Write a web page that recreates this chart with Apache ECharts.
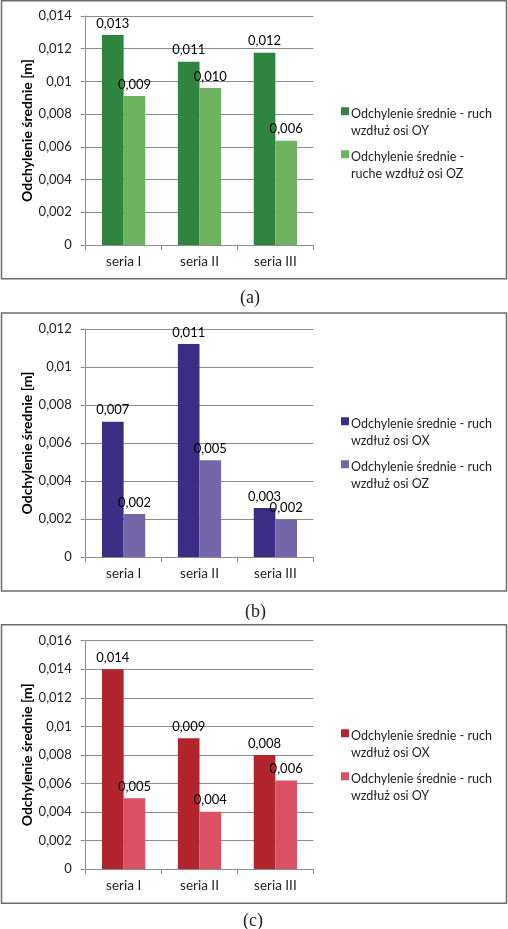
<!DOCTYPE html>
<html>
<head>
<meta charset="utf-8">
<script src="https://cdn.jsdelivr.net/npm/echarts@6/dist/echarts.min.js"></script>
<style>
  html, body { margin: 0; padding: 0; background: #fff; }
  .panel { position: absolute; left: 0; width: 508px; }
</style>
</head>
<body>
<div id="chartA" class="panel" style="top:0;height:310px"></div>
<div id="chartB" class="panel" style="top:310px;height:310px"></div>
<div id="chartC" class="panel" style="top:620px;height:309px"></div>
<script>
// dane
var categories = ["seria I", "seria II", "seria III"];

var namesA = ["Odchylenie średnie - ruch\nwzdłuż osi OY", "Odchylenie średnie -\nruche wzdłuż osi OZ"];
var seriesA1 = [0.01284, 0.01121, 0.01176];
var seriesA2 = [0.00911, 0.0096, 0.00638];
var ticksA = { max: 0.014, interval: 0.002 };

var namesB = ["Odchylenie średnie - ruch\nwzdłuż osi OX", "Odchylenie średnie - ruch\nwzdłuż osi OZ"];
var seriesB1 = [0.00712, 0.01121, 0.00258];
var seriesB2 = [0.00226, 0.00509, 0.00198];
var ticksB = { max: 0.012, interval: 0.002 };

var namesC = ["Odchylenie średnie - ruch\nwzdłuż osi OX", "Odchylenie średnie - ruch\nwzdłuż osi OY"];
var seriesC1 = [0.014, 0.00916, 0.00799];
var seriesC2 = [0.00495, 0.00402, 0.00621];
var ticksC = { max: 0.016, interval: 0.002 };

var FONT = "Lato";

function comma(v, digits) {
  var s = digits ? v.toFixed(digits) : String(parseFloat(v.toFixed(4)));
  return s.replace(".", ",");
}

// wspolna konfiguracja wykresu
function makeOption(cfg) {
  var barLabel = {
    show: true,
    position: "top",
    distance: 5,
    color: "#000",
    fontFamily: FONT,
    fontSize: 13,
    formatter: function (p) { return comma(p.value, 3); },
  };
  return {
    animation: false,
    color: cfg.colors,
    textStyle: { fontFamily: FONT },
    title: {
      text: cfg.caption,
      left: cfg.capX,
      top: cfg.capY,
      textStyle: { fontFamily: "Liberation Serif", fontSize: 18, fontWeight: "normal", color: "#222" },
    },
    graphic: [
      {
        type: "rect",
        shape: { x: 1.5, y: cfg.frameTop, width: 505, height: cfg.frameH },
        style: { fill: "none", stroke: "#6b6b6b", lineWidth: 1.5 },
        silent: true,
      },
    ],
    legend: {
      orient: "vertical",
      left: 336,
      top: cfg.legendTop,
      itemWidth: 8,
      itemHeight: 30,
      itemGap: 9,
      icon: "path://M0 0h10v10h-10z M0 37h0.01v0.01h-0.01z",
      data: cfg.names,
      textStyle: { fontFamily: FONT, fontSize: 12.5, color: "#222", lineHeight: 17, padding: [0, 0, 0, -3] },
    },
    grid: { left: 85.7, right: 194.7, top: cfg.gridTop, bottom: cfg.gridBottom },
    xAxis: {
      type: "category",
      data: categories,
      axisLine: { lineStyle: { color: "#8c8c8c", width: 1 } },
      axisTick: { show: true, length: 5, lineStyle: { color: "#8c8c8c" } },
      axisLabel: { color: "#222", fontFamily: FONT, fontSize: 13.5, margin: 10 },
    },
    yAxis: {
      type: "value",
      min: 0,
      max: cfg.ticks.max,
      interval: cfg.ticks.interval,
      name: "Odchylenie średnie [m]",
      nameLocation: "middle",
      nameGap: 49,
      nameTextStyle: { fontFamily: FONT, fontSize: 14, fontWeight: "bold", color: "#000" },
      axisLine: { show: true, lineStyle: { color: "#8c8c8c", width: 1 } },
      axisTick: { show: true, length: 5, lineStyle: { color: "#8c8c8c" } },
      splitLine: { lineStyle: { color: "#8c8c8c", width: 1 } },
      axisLabel: {
        color: "#222",
        fontFamily: FONT,
        fontSize: 13,
        margin: 14,
        formatter: function (v) { return comma(v); },
      },
    },
    series: [
      { name: cfg.names[0], type: "bar", data: cfg.data[0], barGap: "0%", barCategoryGap: "43%", label: barLabel },
      { name: cfg.names[1], type: "bar", data: cfg.data[1], barGap: "0%", barCategoryGap: "43%", label: barLabel },
    ],
  };
}

var optionA = makeOption({
  colors: ["#2f8440", "#6db35f"],
  names: namesA,
  data: [seriesA1, seriesA2],
  ticks: ticksA,
  caption: "(a)",
  capX: 235, capY: 284,
  frameTop: 0.8, frameH: 278,
  legendTop: 100,
  gridTop: 16, gridBottom: 65,
});

var optionB = makeOption({
  colors: ["#3b2d84", "#7367aa"],
  names: namesB,
  data: [seriesB1, seriesB2],
  ticks: ticksB,
  caption: "(b)",
  capX: 240, capY: 288,
  frameTop: 3, frameH: 278,
  legendTop: 100,
  gridTop: 19, gridBottom: 63,
});

var optionC = makeOption({
  colors: ["#b3252c", "#dc5066"],
  names: namesC,
  data: [seriesC1, seriesC2],
  ticks: ticksC,
  caption: "(c)",
  capX: 238, capY: 287,
  frameTop: 4.7, frameH: 278.6,
  legendTop: 102,
  gridTop: 20.7, gridBottom: 60,
});

var chartA = echarts.init(document.getElementById("chartA"));
var chartB = echarts.init(document.getElementById("chartB"));
var chartC = echarts.init(document.getElementById("chartC"));
chartA.setOption(optionA);
chartB.setOption(optionB);
chartC.setOption(optionC);
</script>
</body>
</html>
